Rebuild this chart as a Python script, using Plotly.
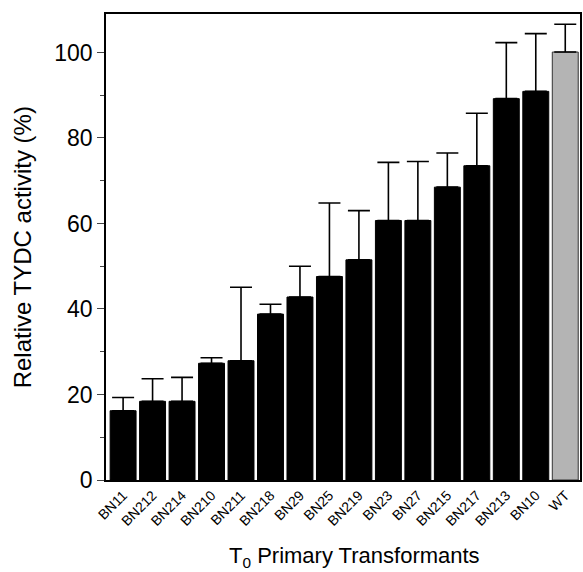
import plotly.graph_objects as go

categories = ["BN11", "BN212", "BN214", "BN210", "BN211", "BN218", "BN29", "BN25",
              "BN219", "BN23", "BN27", "BN215", "BN217", "BN213", "BN10", "WT"]
activity = [16.2, 18.4, 18.4, 27.3, 27.9, 38.8, 42.8, 47.6,
            51.5, 60.7, 60.7, 68.5, 73.5, 89.2, 90.9, 100.1]
upper_err = [19.3, 23.7, 24.0, 28.6, 45.1, 41.1, 50.0, 64.8,
             63.0, 74.3, 74.5, 76.5, 85.8, 102.3, 104.4, 106.6]
x_title = "T<sub>0</sub> Primary Transformants"
y_title = "Relative TYDC activity (%)"

err_plus = [u - v for u, v in zip(upper_err, activity)]
colors = ["#000000"] * (len(categories) - 1) + ["#b4b4b4"]
line_colors = ["#000000"] * (len(categories) - 1) + ["#333333"]

font = "Liberation Sans, Arial, Helvetica, sans-serif"

fig = go.Figure(go.Bar(
    x=categories, y=activity,
    marker=dict(color=colors, line=dict(color=line_colors, width=1)),
    error_y=dict(type="data", symmetric=False, array=err_plus,
                 arrayminus=[0] * len(categories),
                 color="#000000", thickness=1.6, width=11),
))

fig.update_layout(
    width=583, height=572,
    margin=dict(l=106, r=1, t=14, b=92),
    plot_bgcolor="white", paper_bgcolor="white",
    bargap=0.12,
    showlegend=False,
    font=dict(family=font, color="black"),
    annotations=[
        dict(text=y_title, xref="paper", yref="paper", x=-0.1765, y=0.5,
             xanchor="center", yanchor="middle", textangle=-90, showarrow=False,
             font=dict(size=24, family=font)),
        dict(text=x_title, xref="paper", yref="paper", x=0.525, y=-0.166,
             xanchor="center", yanchor="middle", showarrow=False,
             font=dict(size=22, family=font)),
    ],
)
fig.update_xaxes(
    showline=True, linecolor="black", linewidth=1.5, mirror=True,
    ticks="", tickangle=-45, tickfont=dict(size=14, family=font),
    range=[-0.58, 15.5],
)
fig.update_yaxes(
    range=[0, 109], showline=True, linecolor="black", linewidth=1.5, mirror=True,
    showgrid=False, zeroline=False,
    tickvals=[0, 20, 40, 60, 80, 100], ticks="outside", ticklen=7, tickwidth=1.2,
    tickfont=dict(size=23, family=font),
    minor=dict(tickvals=[10, 30, 50, 70, 90], ticks="outside", ticklen=4, tickwidth=1.2),
)

fig.write_html("out.html")
